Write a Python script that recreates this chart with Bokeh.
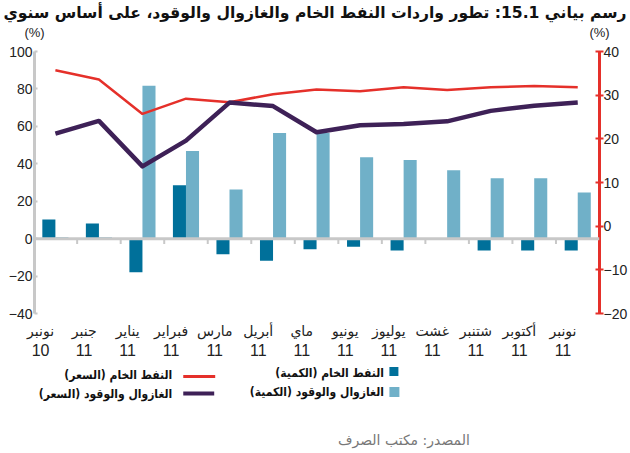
from bokeh.plotting import figure
from bokeh.models import (Range1d, LinearAxis, FixedTicker, Span, ColumnDataSource)
from bokeh.layouts import column
from bokeh.embed import file_html
from bokeh.resources import INLINE
from bokeh.core.properties import value

# ---------------- data ----------------
months = ["نونبر", "جنبر", "يناير", "فبراير", "مارس", "أبريل", "ماي",
          "يونيو", "يوليوز", "غشت", "شتنبر", "أكتوبر", "نونبر"]
years = ["10", "11", "11", "11", "11", "11", "11", "11", "11", "11", "11", "11", "11"]
crude_qty = [10.2, 8.1, -18, 28.5, -8.3, -11.8, -5.7, -4.3, -6.3, 0, -6.3, -6.3, -6.3]
gasoil_qty = [0.8, 0.8, 81.7, 46.8, 26.3, 56.5, 56.5, 43.5, 42.0, 36.5, 32.3, 32.3, 24.7]
crude_price = [35.7, 33.6, 25.7, 29.2, 28.4, 30.2, 31.3, 30.9, 31.8, 31.2, 31.8, 32.1, 31.8]
gasoil_price = [21.2, 24.1, 13.7, 19.6, 28.3, 27.5, 21.5, 23.1, 23.4, 24.0, 26.4, 27.6, 28.3]
left_ticks = [-40, -20, 0, 20, 40, 60, 80, 100]
right_ticks = [-20, -10, 0, 10, 20, 30, 40]

title_text = "رسم بياني 15.1: تطور واردات النفط الخام والغازوال والوقود، على أساس سنوي"
unit_text = "(%)"
legend_labels = ["النفط الخام (الكمية)", "الغازوال والوقود (الكمية)",
                 "النفط الخام (السعر)", "الغازوال والوقود (السعر)"]
source_text = "المصدر: مكتب الصرف"

DARK = "#00709a"
LIGHT = "#70b0c8"
RED = "#e5302a"
PURPLE = "#3e2157"
GRAY = "#c8c8c8"
TITLE_FONT = "DejaVu Sans"
AR_FONT = "DejaVu Sans Condensed"
LABEL_FONT = "DejaVu Sans"
NUM_FONT = "Liberation Sans"

n = len(months)
xs = list(range(n))
LABEL_SHIFT = 0.34   # category labels sit a little left of the bar pairs
W = 630

# ---------------- main chart ----------------
x_range = Range1d(-0.48, 12.5)
p = figure(width=W, height=363, output_backend="svg", toolbar_location=None,
           x_range=x_range, y_range=Range1d(-40, 100),
           x_axis_location=None, title=title_text,
           min_border_left=34, min_border_right=20, min_border_top=51,
           min_border_bottom=50)
p.outline_line_color = None
p.xgrid.visible = False
p.ygrid.visible = False
p.background_fill_color = "white"
p.border_fill_color = "white"

p.title.align = "right"
p.title.offset = -27
p.title.standoff = 0
p.title.text_font = TITLE_FONT
p.title.text_font_size = "15.6px"
p.title.text_font_style = "bold"
p.title.text_color = "#111111"

p.extra_y_ranges = {"right": Range1d(-20, 40)}
p.extra_x_ranges = {
    "lab": Range1d(x_range.start + LABEL_SHIFT, x_range.end + LABEL_SHIFT),
    "unit": Range1d(0, 1),
}


def plain_axis(ax, font, size, standoff):
    ax.axis_line_color = None
    ax.major_tick_line_color = None
    ax.minor_tick_line_color = None
    ax.major_tick_out = 0
    ax.major_tick_in = 0
    ax.minor_tick_out = 0
    ax.minor_tick_in = 0
    ax.axis_label_standoff = 0
    ax.major_label_text_font = font
    ax.major_label_text_font_size = size
    ax.major_label_text_color = "#222222"
    ax.major_label_standoff = standoff


# left axis
ya = p.yaxis[0]
ya.ticker = FixedTicker(ticks=left_ticks)
ya.axis_line_color = GRAY
ya.axis_line_width = 3
ya.major_tick_in = 3
ya.major_tick_out = 0
ya.minor_tick_out = 0
ya.major_tick_line_color = GRAY
ya.major_tick_line_width = 2
ya.minor_tick_line_color = None
ya.axis_label_standoff = 0
ya.major_label_text_font = NUM_FONT
ya.major_label_text_font_size = "14px"
ya.major_label_text_color = "#222222"
ya.major_label_standoff = 2

# right axis
ra = LinearAxis(y_range_name="right", ticker=FixedTicker(ticks=right_ticks))
ra.axis_line_color = RED
ra.axis_line_width = 3
ra.major_tick_in = 4
ra.major_tick_out = 4
ra.minor_tick_out = 0
ra.minor_tick_in = 0
ra.major_tick_line_color = RED
ra.major_tick_line_width = 2
ra.minor_tick_line_color = None
ra.axis_label_standoff = 0
ra.major_label_text_font = NUM_FONT
ra.major_label_text_font_size = "14px"
ra.major_label_text_color = "#222222"
ra.major_label_standoff = 0
p.add_layout(ra, "right")

# unit labels "(%)" above both value axes
ua = LinearAxis(x_range_name="unit", ticker=FixedTicker(ticks=[0, 1]),
                major_label_overrides={0: unit_text, 1: unit_text})
plain_axis(ua, NUM_FONT, "13px", 12)
p.add_layout(ua, "above")

# category labels: month names then years
ma = LinearAxis(x_range_name="lab", ticker=FixedTicker(ticks=xs),
                major_label_overrides={i: months[i] for i in xs})
plain_axis(ma, LABEL_FONT, "14px", 9)
p.add_layout(ma, "below")

yra = LinearAxis(x_range_name="lab", ticker=FixedTicker(ticks=xs),
                 major_label_overrides={i: years[i] for i in xs})
plain_axis(yra, NUM_FONT, "16px", 2)
p.add_layout(yra, "below")

src = ColumnDataSource(dict(
    x=xs,
    xd=[x - 0.15 for x in xs],
    xl=[x + 0.15 for x in xs],
    crude_qty=crude_qty,
    gasoil_qty=gasoil_qty,
    crude_price=crude_price,
    gasoil_price=gasoil_price,
))

p.vbar(x="xd", width=0.3, top="crude_qty", bottom=0, source=src,
       fill_color=DARK, line_color=None)
p.vbar(x="xl", width=0.3, top="gasoil_qty", bottom=0, source=src,
       fill_color=LIGHT, line_color=None)

# category separators under the zero line
sep = [x + 0.5 for x in xs[:-1]]
p.segment(x0=sep, y0=0, x1=sep, y1=-2.8, line_color=GRAY, line_width=2)

p.add_layout(Span(location=0, dimension="width", line_color=GRAY, line_width=3))

p.line(x="x", y="crude_price", source=src, y_range_name="right",
       line_color=RED, line_width=2.5)
p.line(x="x", y="gasoil_price", source=src, y_range_name="right",
       line_color=PURPLE, line_width=4.5, line_join="round")

# ---------------- legend / source panel ----------------
q = figure(width=W, height=90, output_backend="svg", toolbar_location=None,
           x_range=x_range, y_range=Range1d(90, 0),
           x_axis_location=None, y_axis_location=None,
           min_border_top=0, min_border_bottom=0)
q.outline_line_color = None
q.xgrid.visible = False
q.ygrid.visible = False


def ux(px):
    # horizontal page position -> units of the shared x range (frame 34..600)
    return (px - 34) / 43.6 + x_range.start


q.rect(x=[ux(394), ux(394.5)], y=[8, 28.5], width=[9, 10], height=[9, 10],
       width_units="screen", height_units="screen",
       fill_color=[DARK, LIGHT], line_color=None)
q.line(x=[ux(183), ux(215)], y=[13, 13], line_color=RED, line_width=3)
q.line(x=[ux(183), ux(214)], y=[30, 30], line_color=PURPLE, line_width=4)

q.text(x=[ux(384), ux(384), ux(172), ux(172)], y=[9, 28, 11, 30], text=legend_labels,
       text_font=value(AR_FONT), text_font_size="12px", text_font_style="bold",
       text_align="right", text_baseline="middle", text_color="#111111")
q.text(x=[ux(470)], y=[76], text=[source_text], text_font=value(LABEL_FONT),
       text_font_size="14px", text_align="right", text_baseline="middle",
       text_color="#777777")

layout = column(p, q, spacing=0)

open("out.html", "w").write(file_html(layout, INLINE))
